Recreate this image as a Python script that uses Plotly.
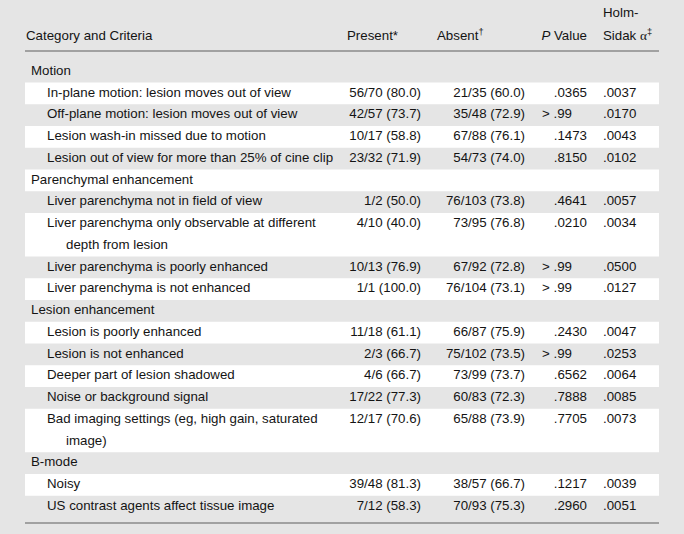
import plotly.graph_objects as go

# ---------------- data ----------------
groups = ["Motion", "Parenchymal enhancement", "Lesion enhancement", "B-mode"]

criteria = [
    ["In-plane motion: lesion moves out of view",
     "Off-plane motion: lesion moves out of view",
     "Lesion wash-in missed due to motion",
     "Lesion out of view for more than 25% of cine clip"],
    ["Liver parenchyma not in field of view",
     "Liver parenchyma only observable at different\ndepth from lesion",
     "Liver parenchyma is poorly enhanced",
     "Liver parenchyma is not enhanced"],
    ["Lesion is poorly enhanced",
     "Lesion is not enhanced",
     "Deeper part of lesion shadowed",
     "Noise or background signal",
     "Bad imaging settings (eg, high gain, saturated\nimage)"],
    ["Noisy",
     "US contrast agents affect tissue image"],
]

present = [
    ["56/70 (80.0)", "42/57 (73.7)", "10/17 (58.8)", "23/32 (71.9)"],
    ["1/2 (50.0)", "4/10 (40.0)", "10/13 (76.9)", "1/1 (100.0)"],
    ["11/18 (61.1)", "2/3 (66.7)", "4/6 (66.7)", "17/22 (77.3)", "12/17 (70.6)"],
    ["39/48 (81.3)", "7/12 (58.3)"],
]

absent = [
    ["21/35 (60.0)", "35/48 (72.9)", "67/88 (76.1)", "54/73 (74.0)"],
    ["76/103 (73.8)", "73/95 (76.8)", "67/92 (72.8)", "76/104 (73.1)"],
    ["66/87 (75.9)", "75/102 (73.5)", "73/99 (73.7)", "60/83 (72.3)", "65/88 (73.9)"],
    ["38/57 (66.7)", "70/93 (75.3)"],
]

p_values = [
    [".0365", ">.99", ".1473", ".8150"],
    [".4641", ".0210", ">.99", ">.99"],
    [".2430", ">.99", ".6562", ".7888", ".7705"],
    [".1217", ".2960"],
]

holm_sidak = [
    [".0037", ".0170", ".0043", ".0102"],
    [".0057", ".0034", ".0500", ".0127"],
    [".0047", ".0253", ".0064", ".0085", ".0073"],
    [".0039", ".0051"],
]

header_labels = ["Category and Criteria", "Present*", "Absent<sup>†</sup>",
                 "<i>P</i> Value", "Holm-",
                 "Sidak <span style='font-family:Liberation Serif'>α</span><sup>‡</sup>"]

# ---------------- layout constants ----------------
W, H = 684, 534
BG = "#e5e5e5"
TXT = "#141414"
RULE = "#8a8a8a"
FONT = "Liberation Sans, Arial, sans-serif"
FS = 13.3

X_LEFT, X_RIGHT = 25, 659
X_HEAD_CAT = 26
X_GROUP = 31
X_ITEM = 47
X_CONT = 66
X_PRESENT_R = 421
X_ABSENT_R = 525
X_P_R = 587
X_P_GT = 542
X_HS = 603
X_PRESENT_HEAD = 347
X_ABSENT_HEAD = 437

Y_HEAD1, Y_HEAD2 = 14, 37
Y_RULE_TOP = 51
Y_FIRST = 71.5
PITCH = 21.75
Y_RULE_BOTTOM = 523

# ---------------- build rows ----------------
rows = []
for g, name in enumerate(groups):
    rows.append(dict(kind="group", lines=[name]))
    for i, crit in enumerate(criteria[g]):
        rows.append(dict(kind="item", lines=crit.split("\n"),
                         present=present[g][i], absent=absent[g][i],
                         p=p_values[g][i], hs=holm_sidak[g][i]))

line_idx = 0
shapes = []
lab_x, lab_y, lab_t = [], [], []
pr_x, pr_y, pr_t = [], [], []
ab_x, ab_y, ab_t = [], [], []
pn_x, pn_y, pn_t = [], [], []
pg_x, pg_y, pg_t = [], [], []
hs_x, hs_y, hs_t = [], [], []

for r, row in enumerate(rows):
    y0 = Y_FIRST + PITCH * line_idx
    n = len(row["lines"])
    if r % 2 == 1:
        shapes.append(dict(type="rect", xref="x", yref="y",
                           x0=X_LEFT, x1=X_RIGHT,
                           y0=y0 - PITCH / 2, y1=y0 + PITCH * (n - 1) + PITCH / 2,
                           fillcolor="white", line=dict(width=0), layer="below"))
    for k, ln in enumerate(row["lines"]):
        if row["kind"] == "group":
            lab_x.append(X_GROUP)
        else:
            lab_x.append(X_ITEM if k == 0 else X_CONT)
        lab_y.append(y0 + PITCH * k)
        lab_t.append(ln)
    if row["kind"] == "item":
        pr_x.append(X_PRESENT_R); pr_y.append(y0); pr_t.append(row["present"])
        ab_x.append(X_ABSENT_R); ab_y.append(y0); ab_t.append(row["absent"])
        if row["p"].startswith(">"):
            pg_x.append(X_P_GT); pg_y.append(y0); pg_t.append(row["p"].replace(">", "> "))
        else:
            pn_x.append(X_P_R); pn_y.append(y0); pn_t.append(row["p"])
        hs_x.append(X_HS); hs_y.append(y0); hs_t.append(row["hs"])
    line_idx += n

for yy in (Y_RULE_TOP, Y_RULE_BOTTOM):
    shapes.append(dict(type="line", xref="x", yref="y", x0=X_LEFT, x1=X_RIGHT,
                       y0=yy, y1=yy, line=dict(color=RULE, width=1.6)))

font = dict(family=FONT, size=FS, color=TXT)


def text_trace(xs, ys, ts, pos):
    return go.Scatter(x=xs, y=ys, text=ts, mode="text", textposition=pos,
                      textfont=font, hoverinfo="skip", showlegend=False, cliponaxis=False)


fig = go.Figure()
fig.add_trace(text_trace(lab_x, lab_y, lab_t, "middle right"))
fig.add_trace(text_trace(pr_x, pr_y, pr_t, "middle left"))
fig.add_trace(text_trace(ab_x, ab_y, ab_t, "middle left"))
fig.add_trace(text_trace(pn_x, pn_y, pn_t, "middle left"))
fig.add_trace(text_trace(pg_x, pg_y, pg_t, "middle right"))
fig.add_trace(text_trace(hs_x, hs_y, hs_t, "middle right"))

# header
fig.add_trace(text_trace(
    [X_HEAD_CAT, X_PRESENT_HEAD, X_ABSENT_HEAD, X_HS, X_HS],
    [Y_HEAD2, Y_HEAD2, Y_HEAD2, Y_HEAD1, Y_HEAD2],
    [header_labels[0], header_labels[1], header_labels[2], header_labels[4], header_labels[5]],
    "middle right"))
fig.add_trace(text_trace([X_P_R], [Y_HEAD2], [header_labels[3]], "middle left"))

fig.update_layout(
    width=W, height=H, margin=dict(l=0, r=0, t=0, b=0),
    paper_bgcolor=BG, plot_bgcolor=BG,
    xaxis=dict(range=[0, W], visible=False, fixedrange=True),
    yaxis=dict(range=[H, 0], visible=False, fixedrange=True),
    shapes=shapes,
)

fig.write_html("out.html", post_script="document.body.style.margin='0';",
               config={"displayModeBar": False})
